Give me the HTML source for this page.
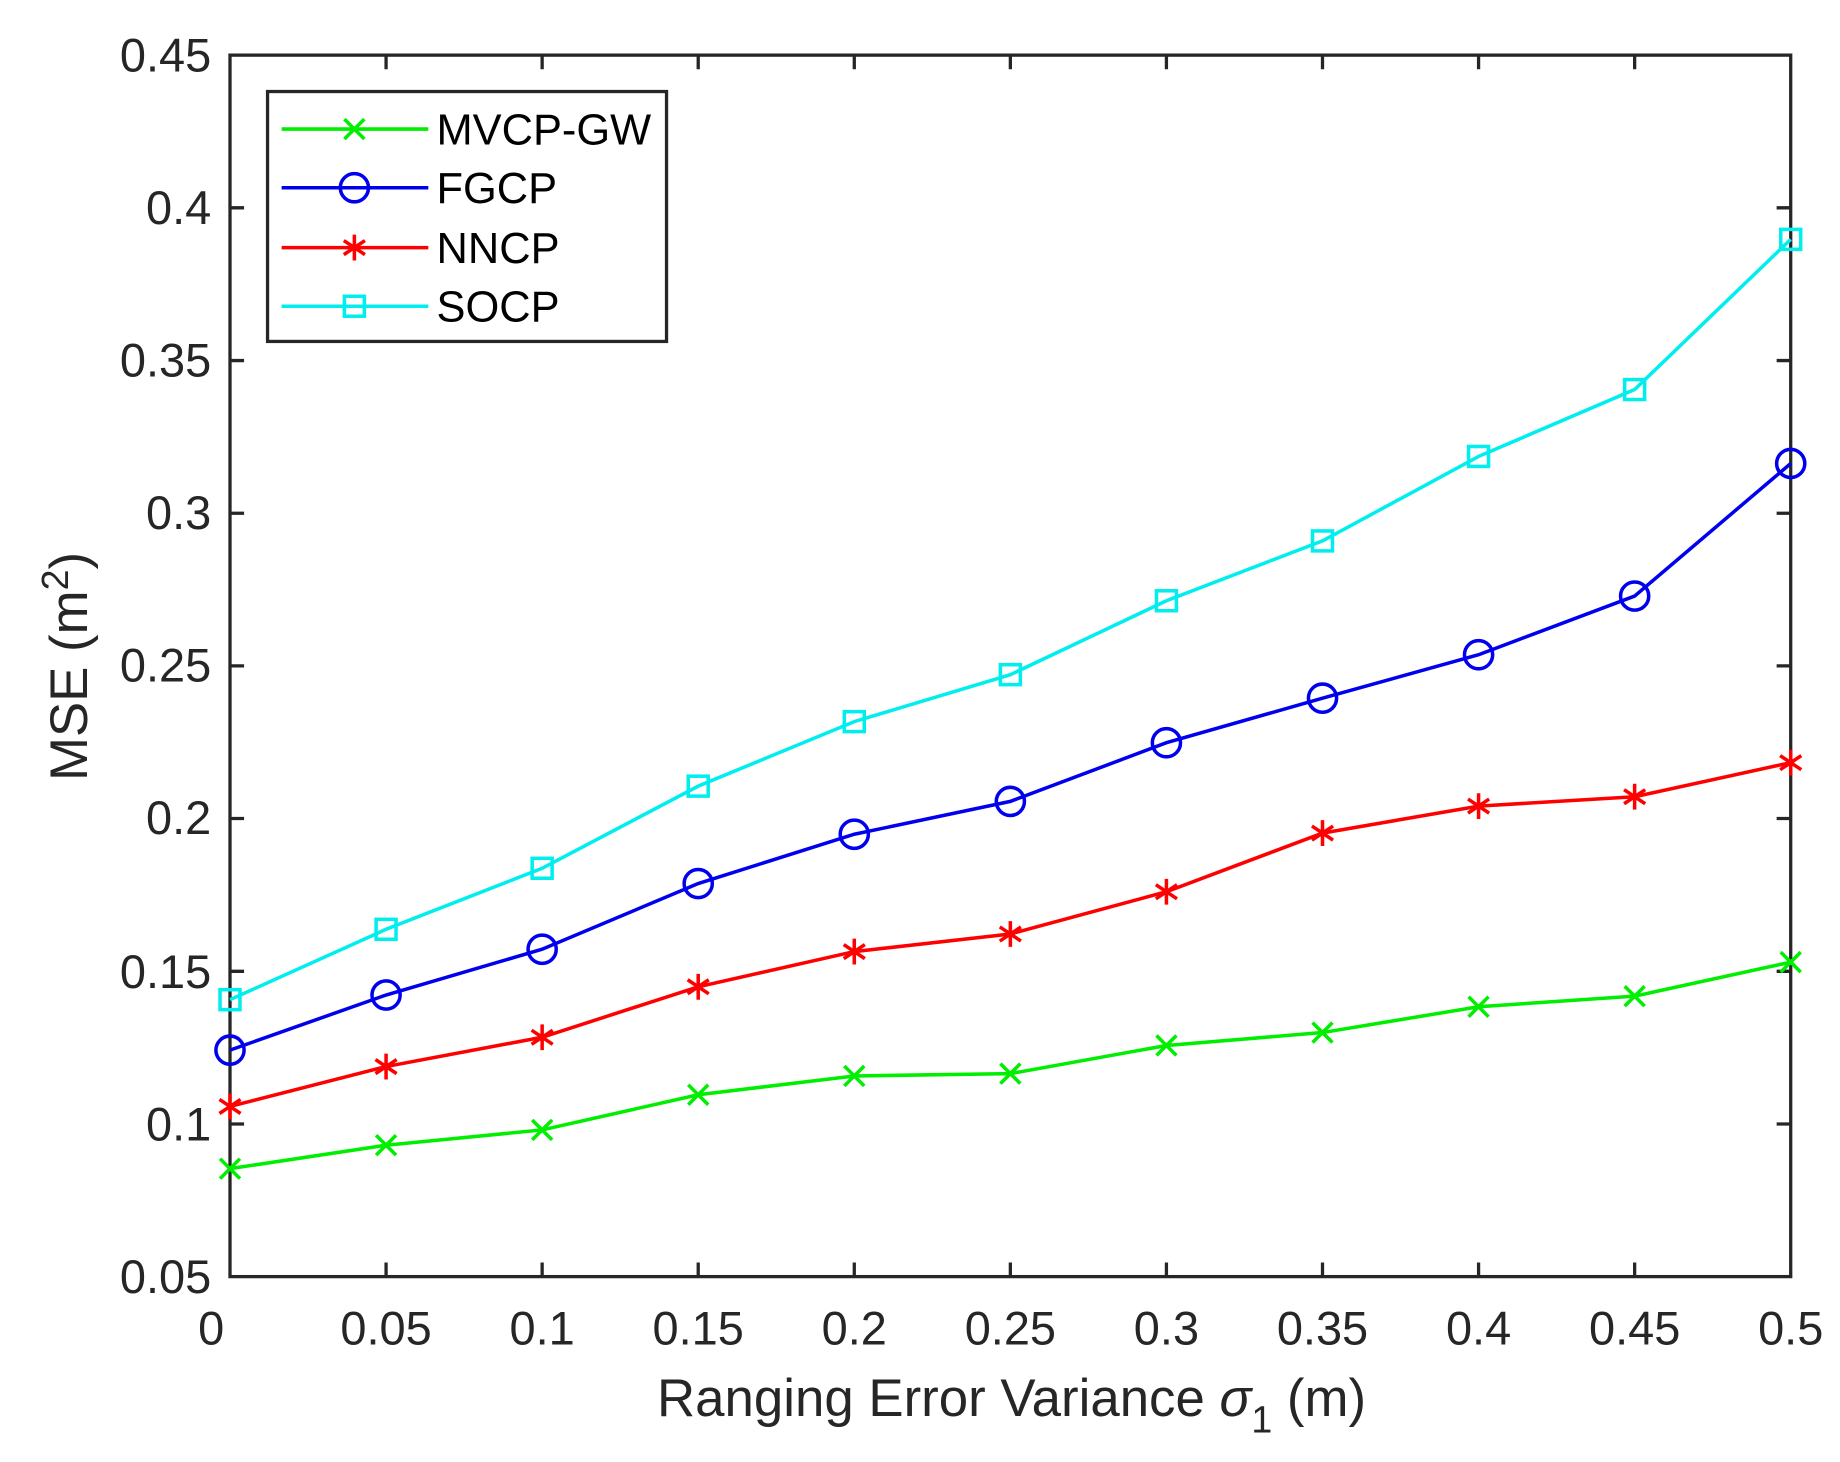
<!DOCTYPE html>
<html><head><meta charset="utf-8"><style>html,body{margin:0;padding:0;background:#fff}svg{display:block}</style></head>
<body>
<svg width="1840" height="1462" viewBox="0 0 1568 1246" preserveAspectRatio="none" xmlns="http://www.w3.org/2000/svg" font-family="Liberation Sans, sans-serif">
<defs>
<g id="mx"><path d="M-8.5,-8.5L8.5,8.5M-8.5,8.5L8.5,-8.5" stroke="#00ee00" stroke-width="3" fill="none"/></g>
<g id="mo"><circle r="12" stroke="#0000ee" stroke-width="3" fill="none"/></g>
<g id="ms"><rect x="-8.5" y="-8.5" width="17" height="17" stroke="#00eeee" stroke-width="3" fill="none"/></g>
<g id="mst" stroke="#ff0000" stroke-width="3" fill="none"><path d="M0,-11V11M-9,-6L9,6M-9,6L9,-6"/></g>
</defs>
<rect x="196" y="47" width="1330" height="1041" fill="#fff" stroke="#262626" stroke-width="2.8"/>
<g stroke="#262626" stroke-width="2.8">
<path d="M329,1088v-12M462,1088v-12M595,1088v-12M728,1088v-12M861,1088v-12M994,1088v-12M1127,1088v-12M1260,1088v-12M1393,1088v-12
M329,47v12M462,47v12M595,47v12M728,47v12M861,47v12M994,47v12M1127,47v12M1260,47v12M1393,47v12"/>
<path d="M196,957.9h12M196,827.8h12M196,697.6h12M196,567.5h12M196,437.4h12M196,307.3h12M196,177.1h12
M1526,957.9h-12M1526,827.8h-12M1526,697.6h-12M1526,567.5h-12M1526,437.4h-12M1526,307.3h-12M1526,177.1h-12"/>
</g>
<g font-size="40" fill="#262626" text-anchor="end">
<text x="180" y="1102">0.05</text><text x="180" y="972">0.1</text><text x="180" y="842">0.15</text><text x="180" y="711">0.2</text><text x="180" y="581">0.25</text><text x="180" y="451">0.3</text><text x="180" y="321">0.35</text><text x="180" y="191">0.4</text><text x="180" y="61">0.45</text>
</g>
<g font-size="40" fill="#262626" text-anchor="middle">
<text x="180" y="1146">0</text><text x="329" y="1146">0.05</text><text x="462" y="1146">0.1</text><text x="595" y="1146">0.15</text><text x="728" y="1146">0.2</text><text x="861" y="1146">0.25</text><text x="994" y="1146">0.3</text><text x="1127" y="1146">0.35</text><text x="1260" y="1146">0.4</text><text x="1393" y="1146">0.45</text><text x="1526" y="1146">0.5</text>
</g>
<text x="862" y="1207" font-size="45" fill="#262626" text-anchor="middle">Ranging Error Variance <tspan font-style="italic">σ</tspan><tspan font-size="32" dy="14">1</tspan><tspan dy="-14"> (m)</tspan></text>
<text transform="translate(74,568) rotate(-90)" font-size="45" fill="#262626" text-anchor="middle">MSE (m<tspan font-size="32" dy="-16">2</tspan><tspan dy="16">)</tspan></text>
<polyline fill="none" stroke="#00ee00" stroke-width="3" points="196,996 329,976 462,963 595,933 728,917 861,915 994,891 1127,880 1260,858 1393,849 1526,820"/>
<polyline fill="none" stroke="#0000ee" stroke-width="3" points="196,895 329,848 462,809 595,753 728,711 861,683 994,633 1127,595 1260,558 1393,508 1526,395"/>
<polyline fill="none" stroke="#ff0000" stroke-width="3" points="196,943 329,909 462,884 595,841 728,811 861,796 994,760 1127,710 1260,687 1393,679 1526,650"/>
<polyline fill="none" stroke="#00eeee" stroke-width="3" points="196,852 329,792 462,740 595,670 728,615 861,575 994,512 1127,461 1260,389 1393,332 1526,204"/>
<g>
<use href="#mx" x="196" y="996"/><use href="#mx" x="329" y="976"/><use href="#mx" x="462" y="963"/><use href="#mx" x="595" y="933"/><use href="#mx" x="728" y="917"/><use href="#mx" x="861" y="915"/><use href="#mx" x="994" y="891"/><use href="#mx" x="1127" y="880"/><use href="#mx" x="1260" y="858"/><use href="#mx" x="1393" y="849"/><use href="#mx" x="1526" y="820"/>
<use href="#mo" x="196" y="895"/><use href="#mo" x="329" y="848"/><use href="#mo" x="462" y="809"/><use href="#mo" x="595" y="753"/><use href="#mo" x="728" y="711"/><use href="#mo" x="861" y="683"/><use href="#mo" x="994" y="633"/><use href="#mo" x="1127" y="595"/><use href="#mo" x="1260" y="558"/><use href="#mo" x="1393" y="508"/><use href="#mo" x="1526" y="395"/>
<use href="#mst" x="196" y="943"/><use href="#mst" x="329" y="909"/><use href="#mst" x="462" y="884"/><use href="#mst" x="595" y="841"/><use href="#mst" x="728" y="811"/><use href="#mst" x="861" y="796"/><use href="#mst" x="994" y="760"/><use href="#mst" x="1127" y="710"/><use href="#mst" x="1260" y="687"/><use href="#mst" x="1393" y="679"/><use href="#mst" x="1526" y="650"/>
<use href="#ms" x="196" y="852"/><use href="#ms" x="329" y="792"/><use href="#ms" x="462" y="740"/><use href="#ms" x="595" y="670"/><use href="#ms" x="728" y="615"/><use href="#ms" x="861" y="575"/><use href="#ms" x="994" y="512"/><use href="#ms" x="1127" y="461"/><use href="#ms" x="1260" y="389"/><use href="#ms" x="1393" y="332"/><use href="#ms" x="1526" y="204"/>
</g>
<rect x="228" y="78" width="340" height="213" fill="#fff" stroke="#262626" stroke-width="2.8"/>
<g stroke-width="3">
<line x1="240" y1="110" x2="365" y2="110" stroke="#00ee00"/><use href="#mx" x="302" y="110"/>
<line x1="240" y1="160" x2="365" y2="160" stroke="#0000ee"/><use href="#mo" x="302" y="160"/>
<line x1="240" y1="211" x2="365" y2="211" stroke="#ff0000"/><use href="#mst" x="302" y="211"/>
<line x1="240" y1="261" x2="365" y2="261" stroke="#00eeee"/><use href="#ms" x="302" y="261"/>
</g>
<g font-size="37" fill="#000">
<text x="372" y="123">MVCP-GW</text><text x="372" y="173">FGCP</text><text x="372" y="224">NNCP</text><text x="372" y="274">SOCP</text>
</g>
</svg>
</body></html>
